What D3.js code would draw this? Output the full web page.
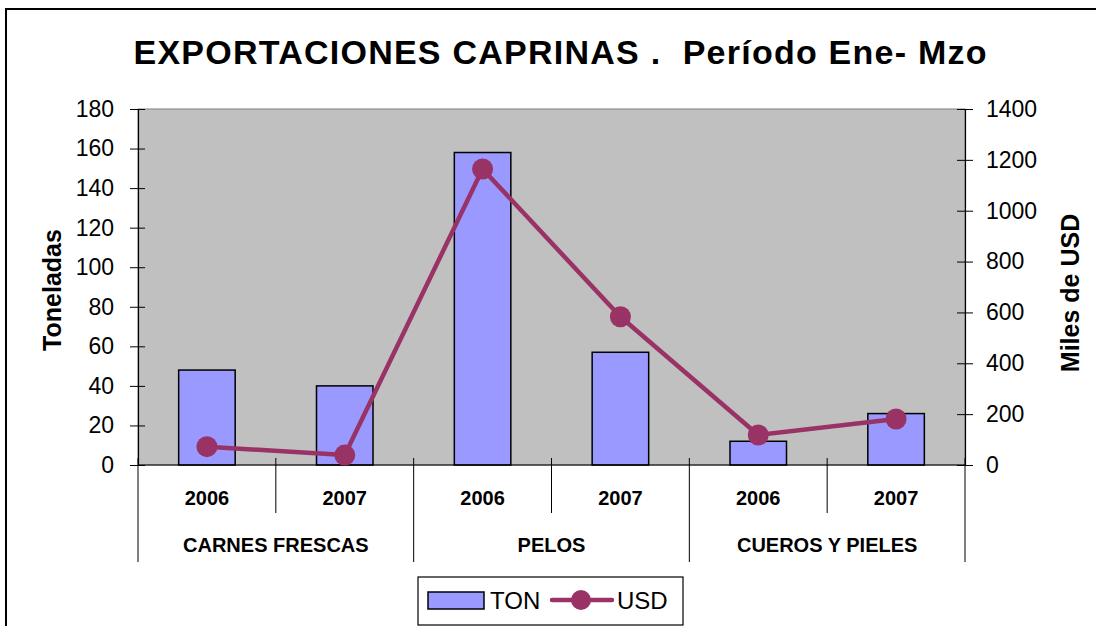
<!DOCTYPE html>
<html lang="es">
<head>
<meta charset="UTF-8">
<title>Exportaciones caprinas</title>
<script src="https://d3js.org/d3.v7.min.js"></script>
<style>
  body { margin: 0; background: #fff; }
  svg text { font-family: "Liberation Sans", Arial, sans-serif; }
</style>
</head>
<body>
<div id="chart"></div>
<script>
// datos
const grupos = ["CARNES FRESCAS", "PELOS", "CUEROS Y PIELES"];
const anios = ["2006", "2007"];
const ton = [48, 40, 158, 57, 12, 26];
const usd = [72, 39, 1164, 583, 118, 181];
const ticksTon = [0, 20, 40, 60, 80, 100, 120, 140, 160, 180];
const ticksUsd = [0, 200, 400, 600, 800, 1000, 1200, 1400];

const W = 1096, H = 626;
const m = { left: 138, right: 965, top: 109, bottom: 465 };

const svg = d3.select("#chart").append("svg")
  .attr("width", W).attr("height", H);

// marco del gráfico (solo arriba e izquierda visibles)
svg.append("path")
  .attr("d", `M6,${H}V9H${W}`)
  .attr("fill", "none").attr("stroke", "#000").attr("stroke-width", 2);

// título
svg.append("text")
  .attr("x", 560).attr("y", 64)
  .attr("text-anchor", "middle")
  .attr("font-size", 34).attr("font-weight", "bold")
  .attr("textLength", 853)
  .style("white-space", "pre")
  .text("EXPORTACIONES CAPRINAS .  Período Ene- Mzo");

// escalas
const cats = d3.range(ton.length);
const x = d3.scaleBand().domain(cats).range([m.left, m.right]);
const yL = d3.scaleLinear().domain([0, 180]).range([m.bottom, m.top]);
const yR = d3.scaleLinear().domain([0, 1400]).range([m.bottom, m.top]);

// fondo del área de trazado
svg.append("rect")
  .attr("x", m.left).attr("y", m.top)
  .attr("width", m.right - m.left).attr("height", m.bottom - m.top)
  .attr("fill", "#c0c0c0").attr("stroke", "#808080").attr("stroke-width", 1);

// barras TON
const bw = x.bandwidth() * 0.41;
svg.selectAll(".bar").data(ton).enter().append("rect")
  .attr("class", "bar")
  .attr("x", (d, i) => x(i) + x.bandwidth() / 2 - bw / 2)
  .attr("y", d => yL(d))
  .attr("width", bw)
  .attr("height", d => yL(0) - yL(d))
  .attr("fill", "#9999ff").attr("stroke", "#000").attr("stroke-width", 1.5);

// ejes Y
const axL = svg.append("g").attr("transform", `translate(${m.left},0)`)
  .call(d3.axisLeft(yL).tickValues(ticksTon).tickSize(0).tickPadding(24));
const axR = svg.append("g").attr("transform", `translate(${m.right},0)`)
  .call(d3.axisRight(yR).tickValues(ticksUsd).tickFormat(d3.format("d")).tickSize(0).tickPadding(21));
[axL, axR].forEach(g => {
  g.select(".domain").attr("stroke", "#000").attr("stroke-width", 1.2);
  g.selectAll("text").attr("font-size", 23).attr("fill", "#000")
    .attr("font-family", "'Liberation Sans', Arial, sans-serif");
});
axL.selectAll(".tick").append("line").attr("x1", -8).attr("x2", 7).attr("stroke", "#000");
axR.selectAll(".tick").append("line").attr("x1", -8).attr("x2", 8).attr("stroke", "#000");

// títulos de ejes
svg.append("text")
  .attr("transform", `translate(61,290) rotate(-90)`)
  .attr("text-anchor", "middle")
  .attr("font-size", 25).attr("font-weight", "bold")
  .text("Toneladas");
svg.append("text")
  .attr("transform", `translate(1079,293) rotate(-90)`)
  .attr("text-anchor", "middle")
  .attr("font-size", 25).attr("font-weight", "bold")
  .text("Miles de USD");

// eje X con categorías agrupadas
svg.append("line")
  .attr("x1", m.left).attr("x2", m.right)
  .attr("y1", m.bottom).attr("y2", m.bottom)
  .attr("stroke", "#000").attr("stroke-width", 1.2);

const xg = svg.append("g");
d3.range(ton.length + 1).forEach(i => {
  const xp = i < ton.length ? x(i) : m.right;
  const esGrupo = i % anios.length === 0;
  xg.append("line")
    .attr("x1", xp).attr("x2", xp)
    .attr("y1", m.bottom - 7).attr("y2", esGrupo ? 562 : 513)
    .attr("stroke", "#000").attr("stroke-width", 1);
});
xg.selectAll(".anio").data(cats).enter().append("text")
  .attr("x", d => x(d) + x.bandwidth() / 2)
  .attr("y", 505)
  .attr("text-anchor", "middle")
  .attr("font-size", 20).attr("font-weight", "bold")
  .text(d => anios[d % anios.length]);
xg.selectAll(".grupo").data(grupos).enter().append("text")
  .attr("x", (d, i) => x(i * 2) + x.bandwidth())
  .attr("y", 552)
  .attr("text-anchor", "middle")
  .attr("font-size", 20).attr("font-weight", "bold")
  .text(d => d);

// línea USD
const col = "#993366";
svg.append("path")
  .datum(usd)
  .attr("d", d3.line().x((d, i) => x(i) + x.bandwidth() / 2).y(d => yR(d)))
  .attr("fill", "none").attr("stroke", col).attr("stroke-width", 4.5)
  .attr("stroke-linejoin", "round");
svg.selectAll(".pt").data(usd).enter().append("circle")
  .attr("cx", (d, i) => x(i) + x.bandwidth() / 2)
  .attr("cy", d => yR(d))
  .attr("r", 10.5)
  .attr("fill", col);

// leyenda
const lg = svg.append("g");
lg.append("rect").attr("x", 418).attr("y", 577).attr("width", 265).attr("height", 48)
  .attr("fill", "#fff").attr("stroke", "#000").attr("stroke-width", 1.2);
lg.append("rect").attr("x", 428).attr("y", 592).attr("width", 56).attr("height", 17)
  .attr("fill", "#9999ff").attr("stroke", "#000").attr("stroke-width", 1.5);
lg.append("text").attr("x", 490).attr("y", 609).attr("font-size", 24).text("TON");
lg.append("line").attr("x1", 552).attr("x2", 612).attr("y1", 600).attr("y2", 600)
  .attr("stroke", col).attr("stroke-width", 4.5).attr("stroke-linecap", "round");
lg.append("circle").attr("cx", 581).attr("cy", 600).attr("r", 10).attr("fill", col);
lg.append("text").attr("x", 617).attr("y", 609).attr("font-size", 24).text("USD");
</script>
</body>
</html>
